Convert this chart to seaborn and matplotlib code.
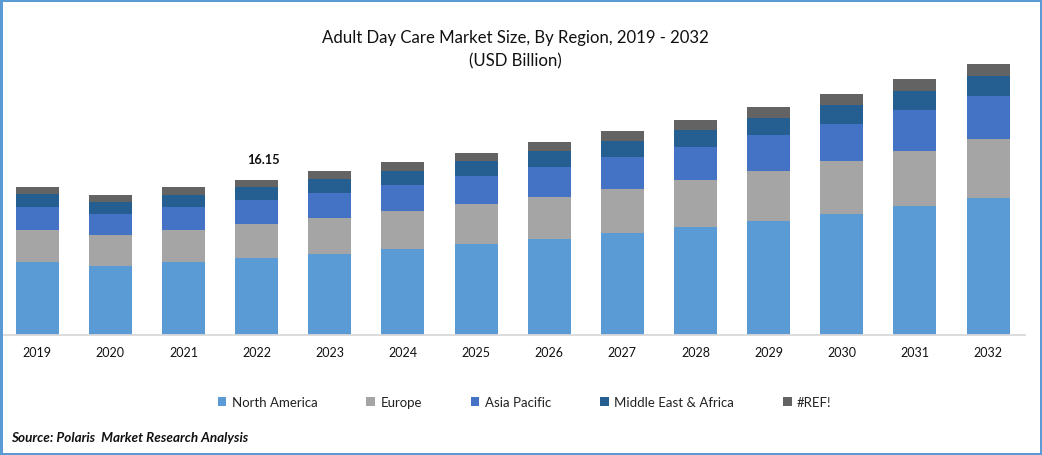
import numpy as np
import pandas as pd
import seaborn as sns
import matplotlib.pyplot as plt
from matplotlib.patches import Rectangle, Patch

years = [2019, 2020, 2021, 2022, 2023, 2024, 2025, 2026, 2027, 2028, 2029, 2030, 2031, 2032]
north_america = [7.6, 7.2, 7.6, 8.0, 8.45, 8.95, 9.5, 10.0, 10.65, 11.25, 11.9, 12.6, 13.45, 14.25]
europe = [3.35, 3.25, 3.35, 3.55, 3.75, 3.95, 4.15, 4.4, 4.6, 4.9, 5.2, 5.5, 5.7, 6.15]
asia_pacific = [2.4, 2.2, 2.4, 2.5, 2.6, 2.7, 2.9, 3.1, 3.3, 3.45, 3.75, 3.95, 4.3, 4.5]
mea = [1.35, 1.25, 1.25, 1.35, 1.45, 1.55, 1.55, 1.65, 1.65, 1.8, 1.75, 1.9, 1.95, 2.1]
ref = [0.7, 0.7, 0.8, 0.75, 0.85, 0.85, 0.85, 0.95, 1.05, 1.05, 1.15, 1.15, 1.25, 1.25]

labels = ['North America', 'Europe', 'Asia Pacific', 'Middle East & Africa', '#REF!']
colors = ['#5b9bd5', '#a5a5a5', '#4472c4', '#255e91', '#636363']

sns.set_theme(style='white')
plt.rcParams['font.family'] = ['Lato', 'DejaVu Sans']

fig = plt.figure(figsize=(10.42, 4.56), dpi=100)
ax = fig.add_axes([0.6 / 1042, 1 - 336.2 / 456, 1024 / 1042, 336.2 / 456])

series = [north_america, europe, asia_pacific, mea, ref]
df = pd.DataFrame(dict(zip(labels, series)), index=years)
cum = df.cumsum(axis=1)

# tallest first so the shorter ones sit on top of it
for name, color in reversed(list(zip(labels, colors))):
    sns.barplot(x=years, y=cum[name].values, color=color, width=0.588, saturation=1,
                errorbar=None, linewidth=0, ax=ax)

ax.set_xlim(-0.5, 13.5)
ax.set_ylim(0, 35.02)
ax.set_yticks([])
ax.set_xlabel('')
ax.set_ylabel('')
sns.despine(ax=ax, left=True)
ax.spines['bottom'].set_color('#d9d9d9')
ax.spines['bottom'].set_linewidth(1.3)
ax.tick_params(axis='x', length=0, labelsize=9, pad=8, colors='#111111')
ax.patch.set_alpha(0)

ax.text(3 + 0.09, cum.loc[2022, '#REF!'] + 2.2, '16.15', ha='center', va='center', fontsize=9.3,
        fontweight='bold', color='#111111')

fig.text(515 / 1042, 1 - 38.5 / 456, 'Adult Day Care Market Size, By Region, 2019 - 2032',
         ha='center', va='center', fontsize=12.05, color='#111111')
fig.text(515 / 1042, 1 - 61 / 456, '(USD Billion)', ha='center', va='center', fontsize=12.05, color='#111111')

handles = [Patch(facecolor=c, linewidth=0, label=l) for l, c in zip(labels, colors)]
fig.legend(handles=handles, loc='center', bbox_to_anchor=(524.5 / 1042, 1 - 403.5 / 456), ncol=5,
           frameon=False, fontsize=9.55, handlelength=0.65, handleheight=0.65, handletextpad=0.4,
           columnspacing=3.7, labelcolor='#222222')

fig.text(11 / 1042, 1 - 438 / 456, 'Source: Polaris  Market Research Analysis', ha='left', va='center',
         fontsize=9.7, fontweight='bold', fontstyle='italic', color='#111111')

# blue frame around the picture
fig.add_artist(Rectangle((0, 0), 1, 1, transform=fig.transFigure, fill=False,
                         edgecolor='#5b9bd5', linewidth=3.6))

fig.savefig('out.png', dpi=100)
